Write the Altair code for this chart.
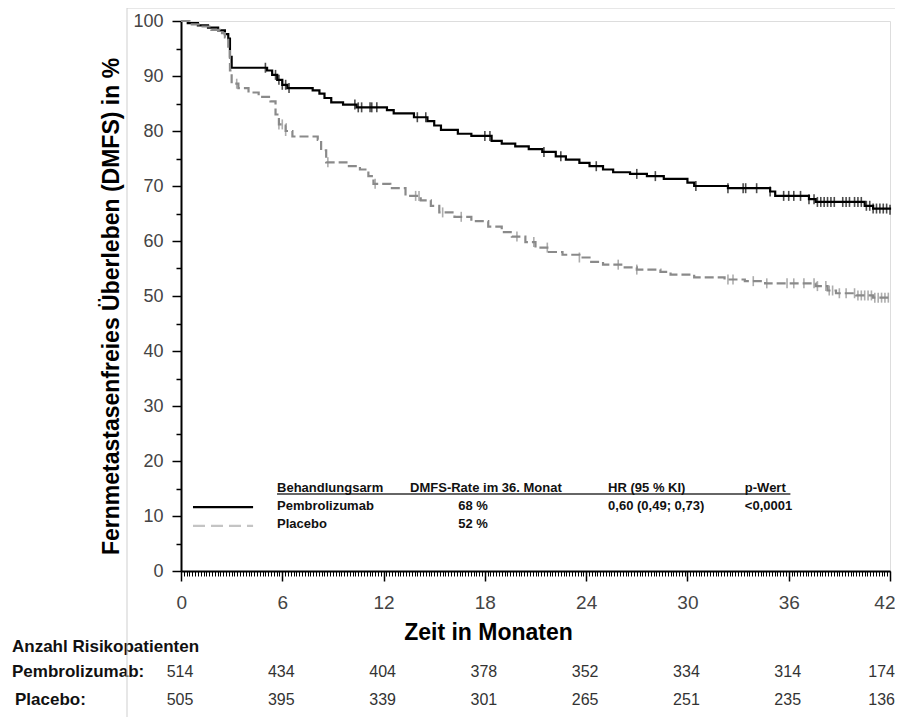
import altair as alt
import pandas as pd

# ---- Kaplan-Meier curves ----
pem_t = [0, 0.4, 1.0, 1.6, 2.2, 2.6, 2.8, 2.9, 3.0, 5.1, 5.4, 5.7, 6.0, 6.3, 7.8, 8.2, 8.5, 8.9,
         9.6, 10.4, 12.2, 12.6, 13.8, 14.6, 15.0, 15.4, 16.4, 17.2, 18.4, 19.0, 19.8, 20.6, 21.4,
         22.2, 22.8, 23.6, 24.2, 25.0, 25.6, 26.6, 27.6, 28.6, 30.0, 30.4, 32.4, 34.9, 35.2, 37.2,
         37.6, 40.5, 41.0, 42.0]
pem_s = [100, 99.6, 99.2, 98.8, 98.3, 97.6, 96.8, 93.5, 91.5, 91.0, 90.2, 89.3, 88.4, 87.8, 87.4,
         86.8, 86.0, 85.2, 84.8, 84.3, 83.8, 83.2, 82.5, 81.8, 81.0, 80.2, 79.5, 79.1, 78.2, 77.7,
         77.2, 76.7, 76.2, 75.4, 74.8, 74.2, 73.6, 73.0, 72.5, 72.2, 71.8, 71.3, 70.6, 70.0, 69.6,
         69.0, 68.2, 67.6, 67.1, 66.4, 65.9, 65.7]
pla_t = [0, 0.5, 1.2, 1.8, 2.3, 2.6, 2.8, 2.9, 3.0, 3.4, 4.0, 4.6, 5.3, 5.6, 5.8, 6.2, 6.6, 8.1,
         8.3, 8.6, 9.8, 10.6, 11.1, 11.4, 12.4, 13.3, 14.2, 14.8, 15.3, 16.2, 17.2, 18.2, 19.0,
         19.6, 20.4, 21.0, 21.8, 22.6, 23.6, 24.2, 25.0, 26.2, 27.0, 28.4, 29.0, 30.4, 32.2, 33.4,
         34.6, 37.6, 38.3, 38.8, 40.0, 41.0, 42.0]
pla_s = [100, 99.4, 99.0, 98.4, 97.8, 97.0, 95.0, 91.0, 88.6, 87.8, 87.0, 86.2, 85.4, 83.0, 81.2,
         80.0, 79.0, 78.4, 76.5, 74.3, 73.6, 73.0, 71.8, 70.4, 69.6, 68.2, 67.4, 66.4, 65.2, 64.4,
         63.6, 62.6, 61.6, 60.8, 59.8, 58.8, 58.0, 57.5, 57.0, 56.2, 55.7, 55.2, 54.8, 54.4, 53.9,
         53.4, 53.0, 52.7, 52.3, 51.8, 51.0, 50.5, 50.1, 49.7, 49.4]

# censoring times
pem_cens = [5.0, 5.6, 5.8, 6.0, 6.2, 6.4, 10.3, 10.5, 10.7, 11.2, 11.3, 11.6, 14.0, 14.5, 18.0,
            18.3, 21.5, 22.5, 24.6, 27.0, 28.1, 30.5, 32.4, 33.3, 33.45, 34.1, 34.9, 35.7, 36.0,
            36.3, 36.7, 37.2, 37.5, 37.7, 37.9, 38.1, 38.3, 38.5, 38.7, 39.2, 39.4, 39.6, 39.9,
            40.1, 40.3, 40.6, 40.8, 41.0, 41.2, 41.4, 41.6, 41.8, 42.0]
pla_cens = [3.3, 5.8, 6.0, 6.2, 8.7, 11.5, 13.9, 14.1, 15.5, 16.6, 19.9, 20.9, 21.7, 23.6, 25.9,
            27.0, 32.4, 32.7, 33.9, 34.7, 35.9, 36.3, 36.9, 37.5, 37.7, 38.2, 38.4, 38.6, 39.0,
            39.4, 39.9, 40.1, 40.3, 40.5, 40.7, 40.9, 41.1, 41.3, 41.5, 41.7, 41.9]

# ---- number at risk ----
risk_times = [0, 6, 12, 18, 24, 30, 36, 42]
risk_pem = [514, 434, 404, 378, 352, 334, 314, 174]
risk_pla = [505, 395, 339, 301, 265, 251, 235, 136]

x_ticks = [0, 6, 12, 18, 24, 30, 36, 42]
y_ticks = [0, 10, 20, 30, 40, 50, 60, 70, 80, 90, 100]
x_minor = [i / 6 for i in range(0, 42 * 6 + 1)]
y_minor = [5, 15, 25, 35, 45, 55, 65, 75, 85, 95]

# legend table (inside the plot)
leg_head = ["Behandlungsarm", "DMFS-Rate im 36. Monat", "HR (95 % KI)", "p-Wert"]
leg_head_t = [5.69, 13.57, 25.3, 33.4]
leg_row_names = ["Pembrolizumab", "Placebo"]
leg_rates = ["68 %", "52 %"]
leg_hr = "0,60 (0,49; 0,73)"
leg_p = "<0,0001"


def step_at(ts, ss, t):
    v = ss[0]
    for a, b in zip(ts, ss):
        if a <= t:
            v = b
    return v


pem_df = pd.DataFrame({"t": pem_t, "s": pem_s})
pla_df = pd.DataFrame({"t": pla_t, "s": pla_s})
pem_c = pd.DataFrame({"t": pem_cens, "s": [step_at(pem_t, pem_s, c) for c in pem_cens]})
pla_c = pd.DataFrame({"t": pla_cens, "s": [step_at(pla_t, pla_s, c) for c in pla_cens]})

xs = alt.Scale(domain=[0, 42], nice=False, zero=False)
ys = alt.Scale(domain=[0, 100], nice=False)

FONT = "Liberation Sans"

main_line = alt.Chart(pem_df).mark_line(
    interpolate="step-after", color="black", strokeWidth=2.2
).encode(
    x=alt.X("t:Q", scale=xs, axis=alt.Axis(
        values=x_ticks, title="Zeit in Monaten", titleFontSize=23, titleFont=FONT,
        titleFontWeight="bold", titleColor="black", titleX=307, titleY=61,
        titleAlign="center", titleBaseline="middle", labelFontSize=19, labelFont=FONT,
        labelColor="#444", tickSize=10, labelPadding=12, labelFlush=True, labelFlushOffset=5,
        domainColor="black", domainWidth=2, tickColor="black", tickWidth=1.5, grid=False,
        orient="bottom")),
    y=alt.Y("s:Q", scale=ys, axis=alt.Axis(
        values=y_ticks, title="Fernmetastasenfreies Überleben (DMFS) in %", titleFontSize=23,
        titleFont=FONT, titleFontWeight="bold", titleColor="black", titleX=-70, titleY=285,
        titleAngle=270, titleAlign="center", titleBaseline="middle", labelFontSize=18,
        labelFont=FONT, labelColor="#444", tickSize=9, labelPadding=9, domainColor="black",
        domainWidth=2, tickColor="black", tickWidth=1.5, grid=False, orient="left")),
)

placebo_line = alt.Chart(pla_df).mark_line(
    interpolate="step-after", color="#8a8a8a", strokeWidth=2.2, strokeDash=[9, 4]
).encode(
    x=alt.X("t:Q", scale=xs, axis=alt.Axis(
        values=x_minor, labels=False, title=None, tickSize=5, domain=False,
        tickColor="black", tickWidth=1, grid=False, orient="bottom")),
    y=alt.Y("s:Q", scale=ys, axis=alt.Axis(
        values=y_minor, labels=False, title=None, tickSize=5, domain=False,
        tickColor="black", tickWidth=1.5, grid=False, orient="left")),
)

pem_ticks = alt.Chart(pem_c).mark_tick(
    orient="vertical", color="black", size=10, thickness=1.6
).encode(x=alt.X("t:Q", scale=xs, axis=None), y=alt.Y("s:Q", scale=ys, axis=None))

pla_ticks = alt.Chart(pla_c).mark_tick(
    orient="vertical", color="#8a8a8a", size=10, thickness=1.6
).encode(x=alt.X("t:Q", scale=xs, axis=None), y=alt.Y("s:Q", scale=ys, axis=None))

# legend sample lines
leg_lines = pd.DataFrame({"t": [0.71, 4.27], "s1": [11.6, 11.6], "s2": [8.2, 8.2]})
leg_l1 = alt.Chart(leg_lines).mark_line(color="black", strokeWidth=2.2).encode(
    x=alt.X("t:Q", scale=xs, axis=None), y=alt.Y("s1:Q", scale=ys, axis=None))
leg_l2 = alt.Chart(leg_lines).mark_line(color="#c4c4c4", strokeWidth=2.2, strokeDash=[12, 6]).encode(
    x=alt.X("t:Q", scale=xs, axis=None), y=alt.Y("s2:Q", scale=ys, axis=None))

underline = alt.Chart(pd.DataFrame({"t": [5.69, 36.1], "s": [14.0, 14.0]})).mark_line(
    color="#333", strokeWidth=1.3).encode(
    x=alt.X("t:Q", scale=xs, axis=None), y=alt.Y("s:Q", scale=ys, axis=None))

left_txt = pd.DataFrame({
    "t": leg_head_t + [5.69, 5.69, 25.3, 33.4],
    "s": [15.1] * 4 + [11.8, 8.5, 11.8, 11.8],
    "txt": leg_head + leg_row_names + [leg_hr, leg_p],
})
leg_text_left = alt.Chart(left_txt).mark_text(
    align="left", baseline="middle", font=FONT, fontSize=13, fontWeight="bold", color="#111"
).encode(x=alt.X("t:Q", scale=xs, axis=None), y=alt.Y("s:Q", scale=ys, axis=None), text="txt:N")

rate_txt = pd.DataFrame({"t": [17.3, 17.3], "s": [11.8, 8.5], "txt": leg_rates})
leg_text_center = alt.Chart(rate_txt).mark_text(
    align="center", baseline="middle", font=FONT, fontSize=13, fontWeight="bold", color="#111"
).encode(x=alt.X("t:Q", scale=xs, axis=None), y=alt.Y("s:Q", scale=ys, axis=None), text="txt:N")

# number at risk table
risk_df = pd.DataFrame({"t": risk_times, "pem": risk_pem, "pla": risk_pla})
risk_inner = risk_df[risk_df["t"] < 42]
risk_last = risk_df[risk_df["t"] >= 42]


def risk_layer(df, field, ypix, align, dx):
    return alt.Chart(df).mark_text(
        align=align, baseline="middle", font=FONT, fontSize=16, color="#333", dx=dx
    ).encode(x=alt.X("t:Q", scale=xs, axis=None), y=alt.value(ypix), text=f"{field}:Q")


risk_layers = [
    risk_layer(risk_inner, "pem", 651, "center", -1),
    risk_layer(risk_inner, "pla", 679, "center", -1),
    risk_layer(risk_last, "pem", 651, "right", 5),
    risk_layer(risk_last, "pla", 679, "right", 5),
]

lab_head = alt.Chart(pd.DataFrame({"txt": ["Anzahl Risikopatienten"]})).mark_text(
    align="left", baseline="middle", font=FONT, fontSize=17, fontWeight="bold", color="#111"
).encode(x=alt.value(-169), y=alt.value(626), text="txt:N")
lab_pem = alt.Chart(pd.DataFrame({"txt": ["Pembrolizumab:"]})).mark_text(
    align="left", baseline="middle", font=FONT, fontSize=17, fontWeight="bold", color="#111"
).encode(x=alt.value(-169), y=alt.value(651), text="txt:N")
lab_pla = alt.Chart(pd.DataFrame({"txt": ["Placebo:"]})).mark_text(
    align="left", baseline="middle", font=FONT, fontSize=17, fontWeight="bold", color="#111"
).encode(x=alt.value(-166), y=alt.value(679), text="txt:N")

# light grey outer frame of the original figure
frame_v = alt.Chart(pd.DataFrame({"a": [0]})).mark_rule(color="#cfcfcf", strokeWidth=1).encode(
    x=alt.value(-54), y=alt.value(-13), y2=alt.value(696))
frame_h = alt.Chart(pd.DataFrame({"a": [0]})).mark_rule(color="#cfcfcf", strokeWidth=1).encode(
    x=alt.value(-54), x2=alt.value(714), y=alt.value(-13))

chart = alt.layer(
    main_line, placebo_line, pla_ticks, pem_ticks, leg_l1, leg_l2, underline,
    leg_text_left, leg_text_center, *risk_layers, lab_head, lab_pem, lab_pla,
    frame_v, frame_h
).resolve_axis(x="independent", y="independent").properties(
    width=709, height=550,
    padding={"left": 173, "top": 13, "right": 5, "bottom": 146},
    autosize=alt.AutoSizeParams(type="none"),
).configure_view(stroke="black", strokeWidth=2).configure(background="white")

chart.save("out.html", embed_options={"renderer": "svg", "actions": False})
